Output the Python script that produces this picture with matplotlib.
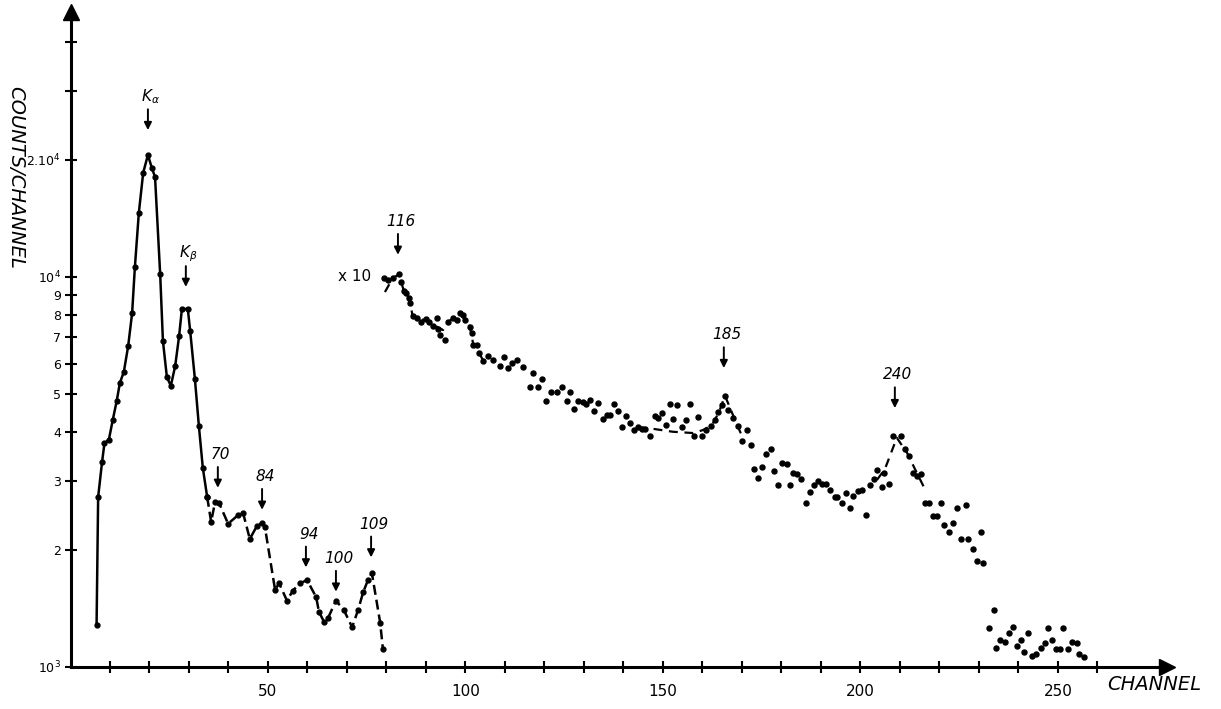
import matplotlib
matplotlib.use("Agg")
from matplotlib import pyplot as plt
from matplotlib.ticker import NullLocator

# low energy part, solid line (channel, counts/channel)
low_ch = [6.6, 7.0, 8.0, 8.6, 9.7, 10.7, 11.7, 12.5, 13.5, 14.6,
          15.6, 16.3, 17.3, 18.4, 19.6, 20.6, 21.4, 22.7, 23.4, 24.4,
          25.4, 26.5, 27.5, 28.2, 29.7, 30.3, 31.5, 32.5, 33.5, 34.6]
low_counts = [1280, 2730, 3360, 3750, 3820, 4300, 4810, 5350, 5710, 6650,
              8080, 10600, 14600, 18500, 20550, 19030, 18050, 10180, 6850, 5540,
              5260, 5910, 7060, 8280, 8280, 7270, 5470, 4150, 3240, 2730]

# tail of the low part, dashed line
tail_ch = [34.6, 35.6, 36.6, 37.6, 39.9, 42.4, 43.7, 45.4, 47.2, 48.5,
           49.2, 51.8, 52.8, 54.8, 56.3, 58.1, 59.9, 62.2, 62.9, 64.2,
           65.2, 67.2, 69.2, 71.3, 72.8, 74.1, 75.3, 76.3, 78.4, 79.1]
tail_counts = [2730, 2355, 2650, 2635, 2330, 2450, 2480, 2130, 2300, 2340,
               2290, 1575, 1640, 1480, 1570, 1640, 1670, 1510, 1385, 1305,
               1335, 1480, 1400, 1265, 1400, 1555, 1670, 1740, 1300, 1110]

# high channels, drawn x10
hi_ch = [79.4, 80.4, 81.6, 83.2, 83.7, 84.4, 84.9, 85.7, 85.9, 86.6,
         87.7, 88.7, 89.9, 90.8, 91.8, 92.7, 93.0, 93.5, 94.8, 95.6,
         96.9, 97.8, 98.6, 99.4, 99.9, 101.1, 101.6, 102.0, 102.8, 103.5,
         104.5, 105.8, 107.0, 108.7, 109.7, 110.8, 111.9, 113.0, 114.5, 116.3,
         117.2, 118.4, 119.4, 120.4, 121.6, 123.2, 124.4, 125.6, 126.5, 127.5,
         128.6, 129.8, 130.5, 131.5, 132.5, 133.6, 134.7, 135.7, 136.6, 137.6,
         138.7, 139.6, 140.6, 141.6, 142.7, 143.7, 144.6, 145.4, 146.7, 148.0,
         148.8, 149.7, 150.7, 151.8, 152.6, 153.6, 154.7, 155.8, 156.8, 157.8,
         158.9, 159.8, 160.9, 162.1, 163.2, 164.0, 164.9, 165.7, 166.5, 167.8,
         169.1, 169.9, 171.2, 172.2, 173.0, 174.1, 175.1, 176.1, 177.3, 178.1,
         179.2, 180.1, 181.3, 182.2, 183.0, 184.0, 184.9, 186.1, 187.2, 188.2,
         189.2, 190.2, 191.2, 192.3, 193.5, 194.1, 195.2, 196.3, 197.3, 198.2,
         199.4, 200.3, 201.3, 202.4, 203.4, 204.3, 205.4, 206.0, 207.3, 208.3,
         210.2, 211.3, 212.4, 213.4, 214.4, 215.2, 216.3, 217.4, 218.3, 219.3,
         220.4, 221.2, 222.5, 223.3, 224.5, 225.4, 226.6, 227.3, 228.6, 229.4,
         230.4, 231.1, 232.5, 233.7, 234.3, 235.3, 236.6, 237.6, 238.5, 239.5,
         240.6, 241.4, 242.3, 243.3, 244.4, 245.6, 246.7, 247.5, 248.6, 249.5,
         250.5, 251.3, 252.5, 253.5, 254.7, 255.3, 256.6]
hi_counts = [9960, 9830, 9940, 10160, 9710, 9220, 9100, 8850, 8590, 7960,
             7860, 7680, 7790, 7680, 7490, 7860, 7360, 7100, 6890, 7680,
             7840, 7760, 8070, 7990, 7760, 7460, 7170, 6690, 6690, 6370,
             6100, 6270, 6130, 5910, 6250, 5830, 6030, 6130, 5890, 5230,
             5660, 5230, 5470, 4810, 5080, 5060, 5230, 4810, 5080, 4590,
             4820, 4790, 4730, 4840, 4530, 4750, 4320, 4430, 4430, 4720,
             4530, 4120, 4400, 4220, 4050, 4130, 4070, 4070, 3910, 4400,
             4360, 4470, 4170, 4720, 4320, 4700, 4120, 4300, 4720, 3920,
             4380, 3910, 4050, 4150, 4300, 4510, 4700, 4960, 4560, 4340,
             4150, 3800, 4050, 3710, 3220, 3060, 3260, 3520, 3620, 3190,
             2920, 3340, 3310, 2920, 3140, 3120, 3030, 2630, 2810, 2930,
             2990, 2940, 2940, 2840, 2730, 2730, 2630, 2800, 2550, 2750,
             2830, 2840, 2450, 2920, 3030, 3200, 2900, 3140, 2940, 3910,
             3910, 3620, 3480, 3140, 3080, 3120, 2640, 2630, 2440, 2440,
             2630, 2310, 2220, 2340, 2550, 2130, 2610, 2130, 2010, 1870,
             2220, 1850, 1260, 1400, 1120, 1170, 1160, 1220, 1270, 1130,
             1170, 1090, 1220, 1070, 1080, 1120, 1150, 1260, 1170, 1110,
             1110, 1260, 1110, 1160, 1150, 1080, 1060]

# hand drawn dashed guides through the peaks
guide_a_ch = [79.6, 81.6, 83.2, 83.7, 84.4, 85.7, 86.6, 90.8, 92.8, 94.3,
              95.6, 96.9, 98.6, 99.9, 101.1, 102.0, 103.5, 104.5]
guide_a_counts = [9150, 9940, 10160, 9710, 9220, 8850, 7960, 7680, 7450, 7310,
                  7670, 7840, 8070, 7760, 7460, 6690, 6370, 6100]
guide_b_ch = [143.7, 147.5, 152.5, 157.6, 160.1, 162.4, 164.2, 165.7, 167.7, 169.9]
guide_b_counts = [4120, 4080, 4010, 3980, 4050, 4170, 4510, 4960, 4430, 3930]
guide_c_ch = [204.2, 206.2, 209.2, 211.8, 214.3, 216.3]
guide_c_counts = [3020, 3220, 3870, 3540, 3140, 2860]

# peak marks
peak_labels = ["K$_\\alpha$", "K$_\\beta$", "70", "84", "94", "100", "109", "116", "185", "240"]
peak_ch = [19.6, 29.2, 37.3, 48.5, 59.6, 67.2, 76.1, 82.9, 165.4, 208.7]
peak_tip = [23800, 9430, 2880, 2530, 1800, 1560, 1910, 11400, 5840, 4610]

y_ticks = [1000, 2000, 3000, 4000, 5000, 6000, 7000, 8000, 9000, 10000, 20000, 30000, 40000]
y_tick_labels = ["$10^3$", "2", "3", "4", "5", "6", "7", "8", "9", "$10^4$", "$2.10^4$", "", ""]
x_ticks = list(range(10, 270, 10))
x_tick_labels = [str(t) if t % 50 == 0 else "" for t in x_ticks]

fig = plt.figure(figsize=(12.21, 7.09), dpi=100)
ax = fig.add_axes([70.5 / 1221, 42 / 709, 1096.1 / 1221, 655 / 709])

ax.plot(low_ch, low_counts, color="black", lw=1.8, marker="o", ms=3.5)
ax.plot(tail_ch, tail_counts, color="black", lw=1.8, ls=(0, (4, 2)), marker="o", ms=3.5)
ax.plot(guide_a_ch, guide_a_counts, color="black", lw=1.6, ls=(0, (4, 3)))
ax.plot(guide_b_ch, guide_b_counts, color="black", lw=1.6, ls=(0, (4, 3)))
ax.plot(guide_c_ch, guide_c_counts, color="black", lw=1.6, ls=(0, (4, 3)))
ax.plot(hi_ch, hi_counts, ls="none", color="black", marker="o", ms=3.6)

for lab, ch, tip in zip(peak_labels, peak_ch, peak_tip):
    ax.annotate("", xy=(ch, tip), xytext=(0, 15), textcoords="offset points",
                arrowprops=dict(arrowstyle="-|>", color="black", lw=1.4,
                                mutation_scale=11, shrinkA=0, shrinkB=0))
    ax.annotate(lab, xy=(ch, tip), xytext=(2, 24), textcoords="offset points",
                ha="center", va="center", fontsize=11, style="italic")

ax.text(72, 10000, "x 10", ha="center", va="center", fontsize=11)

ax.set_yscale("log")
ax.set_xlim(0, 277.5)
ax.set_ylim(1000, 47800)
ax.yaxis.set_minor_locator(NullLocator())
ax.set_yticks(y_ticks)
ax.set_yticklabels(y_tick_labels)
ax.set_xticks(x_ticks)
ax.set_xticklabels(x_tick_labels)
ax.tick_params(direction="inout", length=8, width=1.5)
ax.tick_params(axis="x", pad=8, labelsize=11)
ax.tick_params(axis="y", pad=3, labelsize=9)

for side in ["top", "right"]:
    ax.spines[side].set_visible(False)
for side in ["left", "bottom"]:
    ax.spines[side].set_linewidth(2.2)

# arrow heads on the axes
ax.plot(1, 0, ">k", ms=11, transform=ax.transAxes, clip_on=False)
ax.plot(0, 1, "^k", ms=11, transform=ax.transAxes, clip_on=False)

ax.text(0.989, -0.027, "CHANNEL", transform=ax.transAxes, ha="center", va="center",
        fontsize=14, style="italic")
ax.text(-0.05, 0.747, "COUNTS/CHANNEL", transform=ax.transAxes, ha="center", va="center",
        fontsize=14, style="italic", rotation=-90)

fig.savefig("out.png", dpi=100)
